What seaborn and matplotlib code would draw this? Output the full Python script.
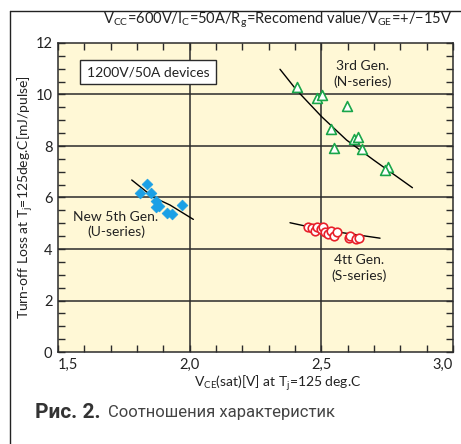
import numpy as np
import pandas as pd
import seaborn as sns
import matplotlib.pyplot as plt
from matplotlib.lines import Line2D
from matplotlib.ticker import MultipleLocator, FuncFormatter

# New 5th Gen. (U-series) - blue diamonds
u_vce = [1.811, 1.837, 1.853, 1.873, 1.885, 1.872, 1.915, 1.933, 1.970]
u_loss = [6.19, 6.54, 6.19, 5.88, 5.68, 5.62, 5.41, 5.37, 5.72]
u_fit_vce = [1.780, 1.862, 1.925, 2.014]
u_fit_loss = [6.68, 6.01, 5.71, 5.15]

# 3rd Gen. (N-series) - green triangles
n_vce = [2.406, 2.483, 2.503, 2.598, 2.537, 2.625, 2.639, 2.548, 2.655, 2.752, 2.743]
n_loss = [10.28, 9.88, 9.97, 9.55, 8.66, 8.26, 8.34, 7.93, 7.87, 7.17, 7.07]
n_fit_vce = [2.343, 2.406, 2.501, 2.596, 2.698, 2.846]
n_fit_loss = [10.98, 10.17, 9.14, 8.23, 7.46, 6.38]

# 4th Gen. (S-series) - red circles
s_vce = [2.451, 2.464, 2.476, 2.485, 2.499, 2.508, 2.514, 2.524, 2.537, 2.548,
         2.558, 2.605, 2.609, 2.632, 2.644]
s_loss = [4.85, 4.80, 4.71, 4.84, 4.77, 4.87, 4.65, 4.57, 4.70, 4.52,
          4.65, 4.43, 4.51, 4.39, 4.44]
s_fit_vce = [2.381, 2.508, 2.723]
s_fit_loss = [5.02, 4.74, 4.42]

x_ticks = [1.5, 2.0, 2.5, 3.0]
y_ticks = [0, 2, 4, 6, 8, 10, 12]

sns.set_style("ticks")
plt.rcParams['font.family'] = ['Lato', 'DejaVu Sans']
plt.rcParams['mathtext.fontset'] = 'custom'
plt.rcParams['mathtext.rm'] = 'Lato'
plt.rcParams['mathtext.it'] = 'Lato'

fig = plt.figure(figsize=(4.61, 4.44), dpi=100)
ax = fig.add_axes([58 / 461, 1 - 352 / 444, 395 / 461, 309 / 444])
ax.set_facecolor('#fff8d6')

blue = '#1aa0e6'
green = '#1aa64a'
red = '#e8202a'
dark = '#2b2b2b'
txt = '#222222'

# gridlines at the major values
for gx in x_ticks[1:-1]:
    ax.axvline(gx, color=dark, lw=1.1, zorder=1)
for gy in y_ticks[1:-1]:
    ax.axhline(gy, color=dark, lw=1.1, zorder=1)

u_df = pd.DataFrame({'vce': u_vce, 'loss': u_loss})
n_df = pd.DataFrame({'vce': n_vce, 'loss': n_loss})
s_df = pd.DataFrame({'vce': s_vce, 'loss': s_loss})

sns.lineplot(x=u_fit_vce, y=u_fit_loss, color='black', lw=1.0, ax=ax, zorder=2)
sns.lineplot(x=n_fit_vce, y=n_fit_loss, color='black', lw=1.0, ax=ax, zorder=2)
sns.lineplot(x=s_fit_vce, y=s_fit_loss, color='black', lw=1.0, ax=ax, zorder=2)

sns.scatterplot(data=u_df, x='vce', y='loss', marker='D', s=30, color=blue,
                edgecolor=blue, linewidth=0.5, ax=ax, zorder=3)
sns.scatterplot(data=n_df, x='vce', y='loss', marker='^', s=50, facecolor='white',
                edgecolor=green, linewidth=1.2, ax=ax, zorder=3)
sns.scatterplot(data=s_df, x='vce', y='loss', marker='o', s=38, facecolor='white',
                edgecolor=red, linewidth=1.2, ax=ax, zorder=3)

ax.set_xlim(1.5, 3.0)
ax.set_ylim(0, 12)
ax.set_xticks(x_ticks)
ax.set_yticks(y_ticks)
ax.xaxis.set_minor_locator(MultipleLocator(0.1))
ax.yaxis.set_minor_locator(MultipleLocator(0.5))
ax.xaxis.set_major_formatter(FuncFormatter(lambda v, p: f"{v:.1f}".replace('.', ',')))
ax.tick_params(which='both', direction='in', top=True, right=True,
               color=dark, width=1.0, labelsize=10.5, labelcolor=txt)
ax.tick_params(which='major', length=5, pad=4)
ax.tick_params(which='minor', length=5)
xl = ax.get_xticklabels()
xl[0].set_ha('left')
xl[-1].set_ha('right')
for sp in ax.spines.values():
    sp.set_color(dark)
    sp.set_linewidth(1.1)

ax.set_xlabel('')
ax.set_ylabel(r'Turn-off Loss at T$_\mathrm{j}$=125deg.C[mJ/pulse]', fontsize=10, color=txt)
ax.yaxis.set_label_coords(-0.058, 0.5)

ax.text(1.842, 10.87, '1200V/50A devices', fontsize=10, ha='center', va='center', color=txt,
        bbox=dict(boxstyle='square,pad=0.45', fc='white', ec=dark, lw=1.0), zorder=4)
ax.text(2.655, 10.80, '3rd Gen.\n(N-series)', fontsize=10, ha='center', va='center',
        color=txt, linespacing=1.3)
ax.text(1.720, 4.95, 'New 5th Gen.\n(U-series)', fontsize=10, ha='center', va='center',
        color=txt, linespacing=1.3)
ax.text(2.643, 3.26, '4tt Gen.\n(S-series)', fontsize=10, ha='center', va='center',
        color=txt, linespacing=1.3)

fig.text(452 / 461, 1 - 20 / 444,
         r'V$_\mathrm{CC}$=600V/I$_\mathrm{C}$=50A/R$_\mathrm{g}$=Recomend value/V$_\mathrm{GE}$=+/$-$15V',
         ha='right', va='center', fontsize=10.5, color=txt)
fig.text(278 / 461, 1 - 383 / 444, r'V$_\mathrm{CE}$(sat)[V] at T$_\mathrm{j}$=125 deg.C',
         ha='center', va='center', fontsize=10, color=txt)

cap_font = ['Roboto', 'DejaVu Sans']
fig.text(35 / 461, 1 - 412 / 444, 'Рис. 2.', ha='left', va='center', fontsize=15,
         fontweight='bold', family=cap_font, color='#333333')
fig.text(108 / 461, 1 - 412 / 444, 'Соотношения характеристик', ha='left', va='center',
         fontsize=12, family=cap_font, color='#444444')

# frame lines of the figure page
fig.add_artist(Line2D([10 / 461, 10 / 461], [0, 1 - 11 / 444], color=txt, lw=1.0))
fig.add_artist(Line2D([10 / 461, 1], [1 - 11 / 444, 1 - 11 / 444], color=txt, lw=1.0))

fig.savefig('out.png', dpi=100)
